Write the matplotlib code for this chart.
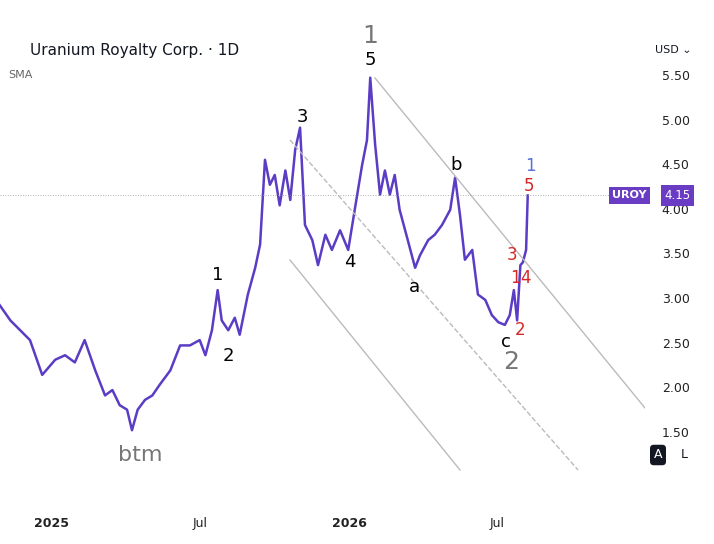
import matplotlib
matplotlib.use("Agg")
import matplotlib.pyplot as plt
import matplotlib.dates as mdates
import datetime as dt

# ---- data ----
day_offsets = [-64,-51,-39,-27,-12,4,16,28,40,53,65,74,83,92,98,105,114,123,132,145,157,169,181,188,196,203,208,216,224,230,240,249,255,261,267,273,279,286,292,298,304,310,319,326,335,343,353,363,371,380,386,390,396,402,408,414,420,426,436,445,451,461,469,478,488,494,500,506,515,522,531,539,547,555,561,566,570,574,577,581,583]
prices = [2.92,2.75,2.64,2.53,2.14,2.31,2.36,2.28,2.53,2.19,1.91,1.97,1.80,1.75,1.52,1.75,1.86,1.91,2.03,2.19,2.47,2.47,2.53,2.36,2.64,3.09,2.75,2.64,2.78,2.59,3.04,3.34,3.60,4.55,4.27,4.38,4.04,4.43,4.10,4.66,4.91,3.82,3.65,3.37,3.71,3.54,3.76,3.54,3.99,4.49,4.77,5.47,4.72,4.16,4.43,4.16,4.38,3.99,3.65,3.34,3.48,3.65,3.71,3.82,3.99,4.35,3.93,3.43,3.54,3.04,2.98,2.81,2.73,2.70,2.81,3.09,2.75,3.37,3.40,3.54,4.15]
y_ticks = [1.50, 2.00, 2.50, 3.00, 3.50, 4.00, 4.50, 5.00, 5.50]
last_price = 4.15

base = dt.date(2025, 1, 1)
dates = [mdates.date2num(base + dt.timedelta(days=d)) for d in day_offsets]

fig = plt.figure(figsize=(7.14, 5.44), dpi=100)
W, H = 714, 544
ax = fig.add_axes([0, 1 - 500 / H, 645 / W, 460 / H])
x0 = mdates.date2num(base) - 52 / 0.816
x1 = x0 + 645 / 0.816
ax.set_xlim(x0, x1)
ppu = (432 - 75) / 4.0
ytop = 5.5 + (75 - 40) / ppu
ybot = 5.5 - (500 - 75) / ppu
ax.set_ylim(ybot, ytop)

def px(x, y):
    return x0 + x / 0.816, 5.5 - (y - 75) / ppu

ax.plot(dates, prices, color="#5b3cc4", lw=1.8)

for (a, b, ls) in [((375, 78), (645, 408), "-"), ((290, 140), (578, 470), "--"), ((290, 260), (460, 470), "-")]:
    p, q = px(*a), px(*b)
    ax.plot([p[0], q[0]], [p[1], q[1]], color="#bbbbbb", lw=1, ls=ls)

ax.axhline(last_price, color="#999999", lw=0.6, ls=(0, (1, 2)))

labels = [("1", 218, 275, "black", 13), ("2", 228, 356, "black", 13), ("3", 302, 117, "black", 13),
          ("5", 370, 60, "black", 13), ("1", 370, 36, "#777777", 18), ("4", 350, 262, "black", 13),
          ("a", 414, 287, "black", 13), ("b", 456, 165, "black", 13), ("c", 506, 342, "black", 13),
          ("2", 511, 362, "#777777", 18), ("btm", 140, 455, "#777777", 16),
          ("3", 512, 255, "#d62728", 12), ("1", 515, 278, "#d62728", 12), ("4", 526, 278, "#d62728", 12),
          ("2", 520, 330, "#d62728", 12), ("5", 529, 186, "#d62728", 12), ("1", 530, 166, "#5b6fd6", 12)]
for t, x, y, c, s in labels:
    X, Y = px(x, y)
    ax.text(X, Y, t, color=c, fontsize=s, ha="center", va="center")

ax.set_xticks([mdates.date2num(dt.date(2025, 1, 1)), mdates.date2num(dt.date(2025, 7, 1)),
               mdates.date2num(dt.date(2026, 1, 1)), mdates.date2num(dt.date(2026, 7, 1))])
ax.set_xticklabels(["2025", "Jul", "2026", "Jul"])
for lbl, w in zip(ax.get_xticklabels(), ["bold", "normal", "bold", "normal"]):
    lbl.set_fontweight(w)
ax.yaxis.tick_right()
ax.set_yticks(y_ticks)
ax.set_yticklabels([f"{v:.2f}" for v in y_ticks])
ax.tick_params(length=0, labelsize=9, colors="#222222", pad=12)
for s in ax.spines.values():
    s.set_visible(False)

ax.text(612 / 645, last_price, "UROY", transform=ax.get_yaxis_transform(), ha="left", va="center",
        color="white", fontsize=8, fontweight="bold",
        bbox=dict(boxstyle="square,pad=0.3", fc="#6a3cc4", ec="none"))
ax.text(1.03, last_price, "4.15", transform=ax.get_yaxis_transform(), ha="left", va="center",
        color="white", fontsize=8.5,
        bbox=dict(boxstyle="square,pad=0.3", fc="#6a3cc4", ec="none"))

fig.text(30 / W, 1 - 50 / H, "Uranium Royalty Corp. · 1D", fontsize=11, va="center", color="#131722")
fig.text(8 / W, 1 - 75 / H, "SMA", fontsize=8, va="center", color="#666666")
fig.text(655 / W, 1 - 50 / H, "USD ⌄", fontsize=8, va="center", color="#131722")
fig.text(658 / W, 1 - 455 / H, "A", fontsize=9, ha="center", va="center", color="white",
         bbox=dict(boxstyle="round,pad=0.3", fc="#131722", ec="none"))
fig.text(684 / W, 1 - 455 / H, "L", fontsize=9, ha="center", va="center", color="#131722")
fig.savefig("out.png", dpi=100)
